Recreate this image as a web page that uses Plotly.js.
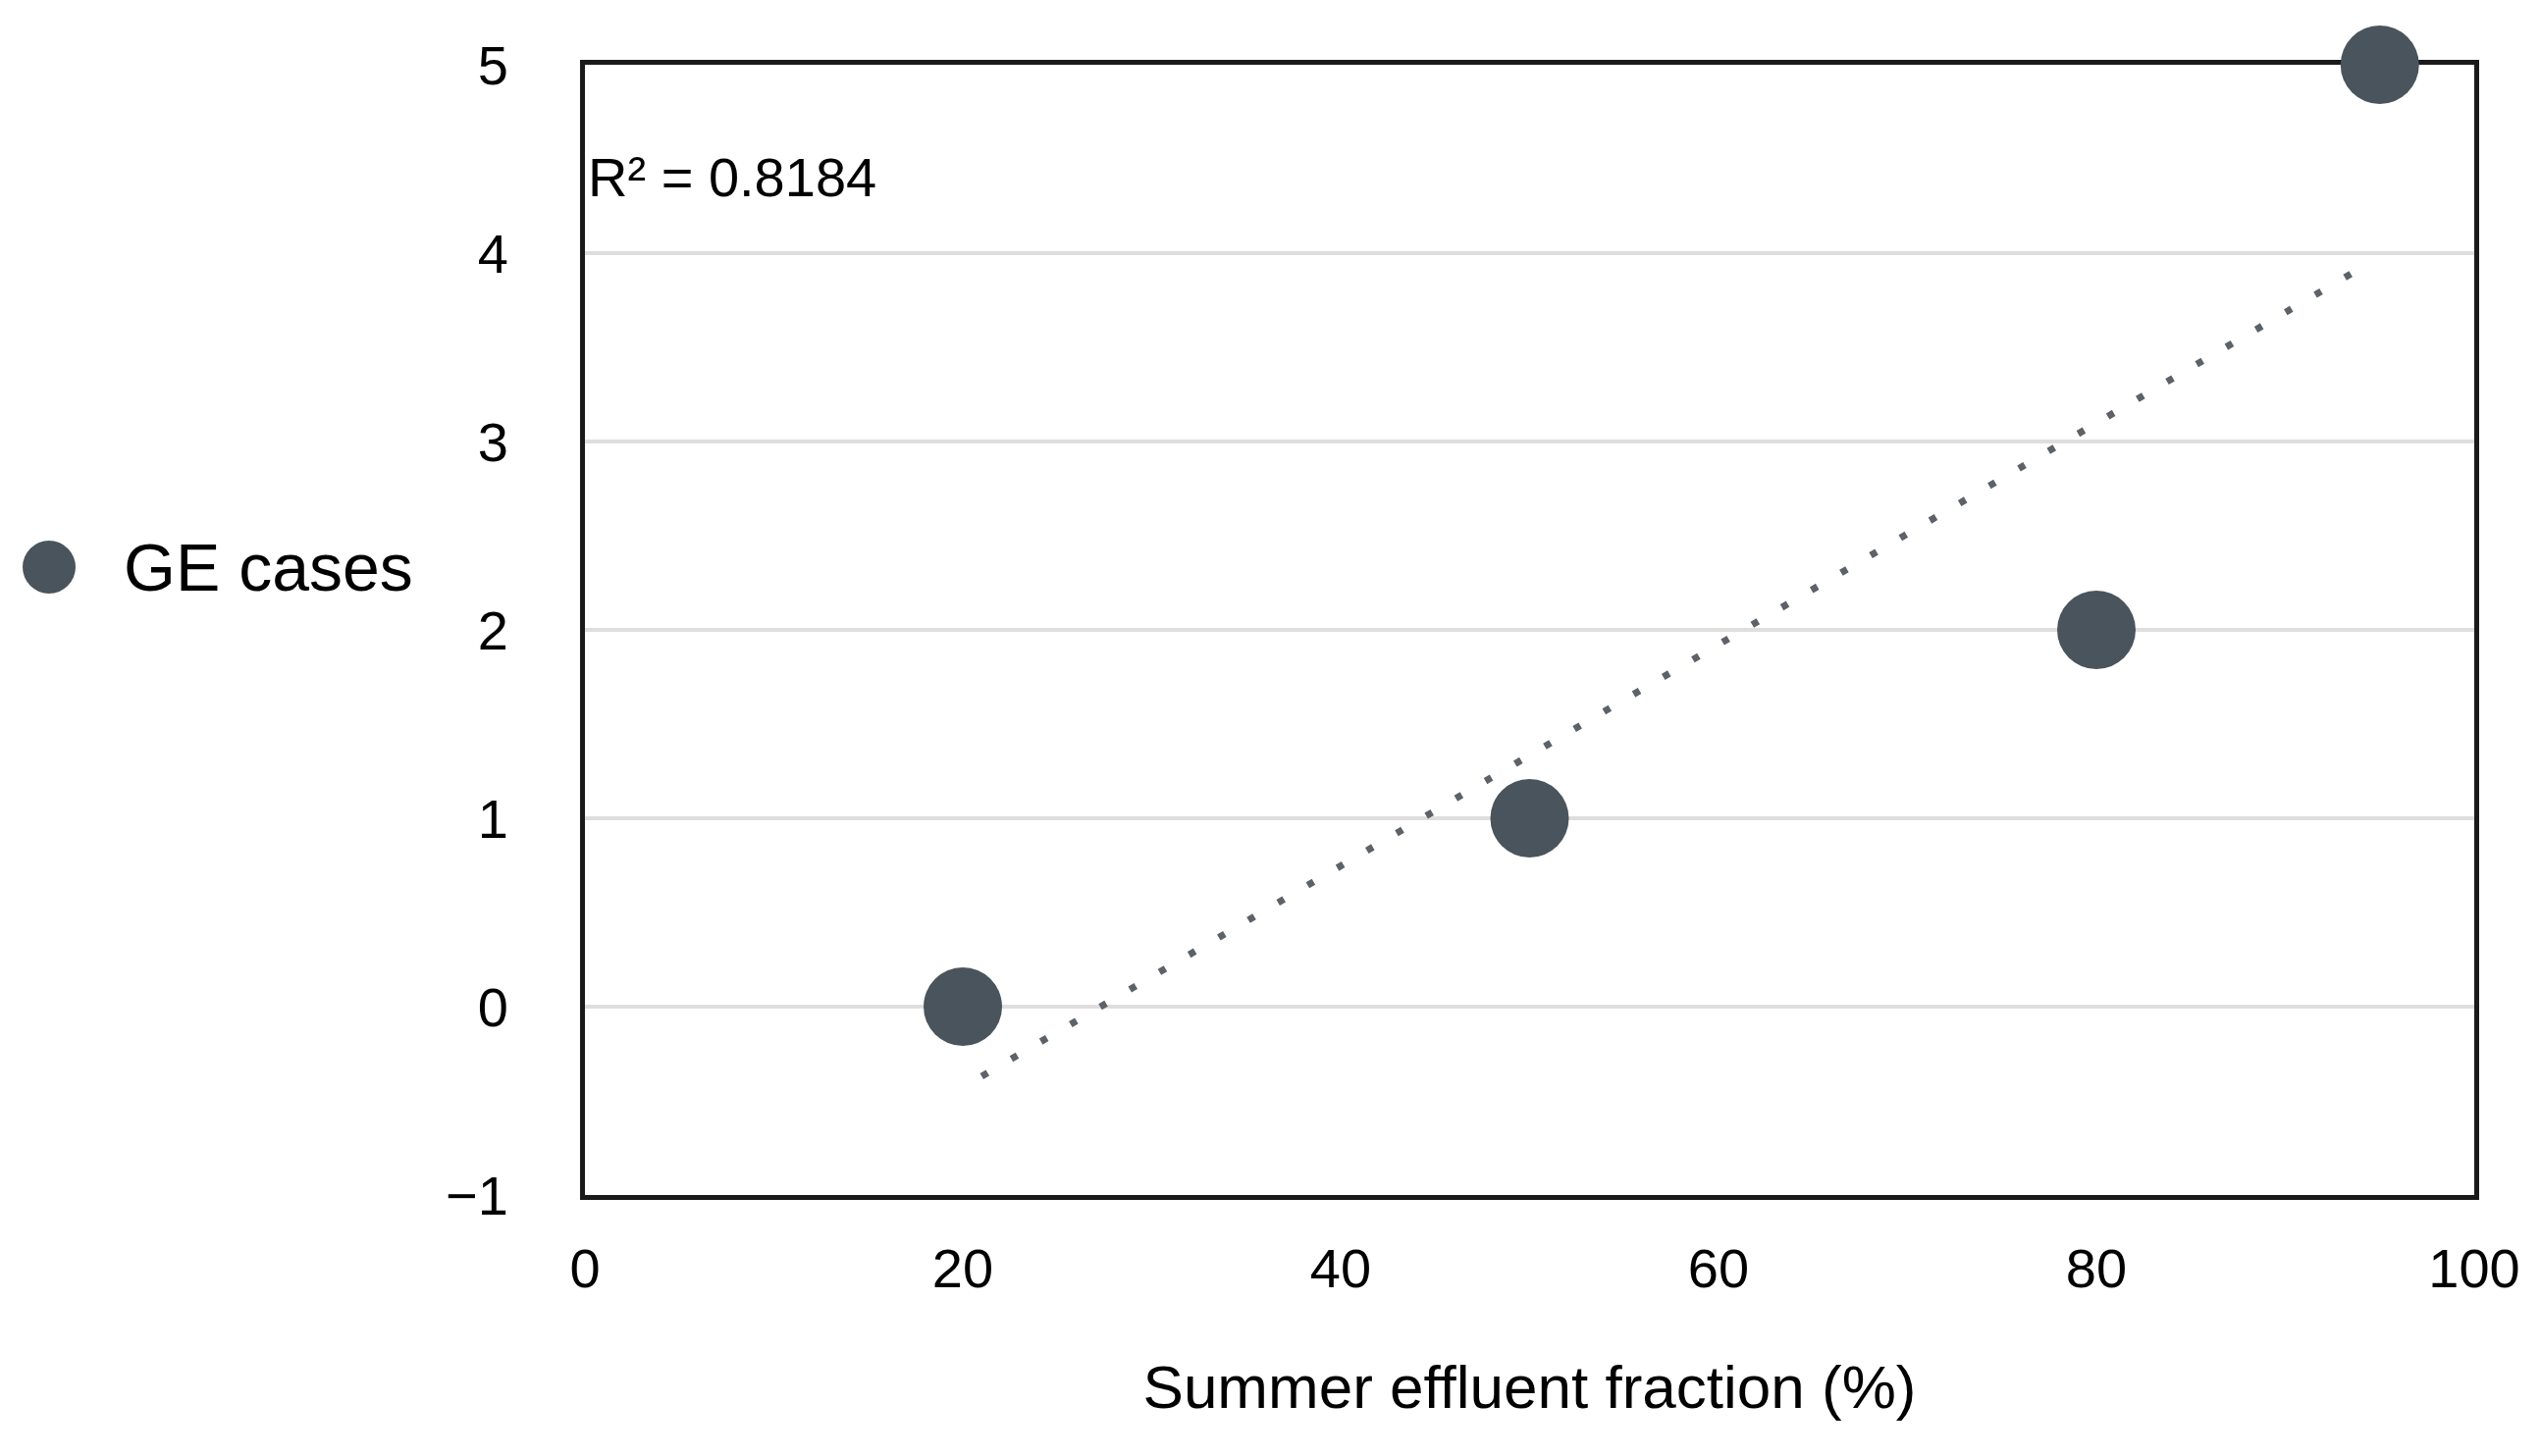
<!DOCTYPE html>
<html>
<head>
<meta charset="utf-8">
<script src="https://cdn.plot.ly/plotly-3.0.1.min.js"></script>
<style>html,body{margin:0;padding:0;background:#fff;}#chart{width:2588px;height:1484px;}</style>
</head>
<body>
<div id="chart"></div>
<script>
// Data
const effluentFraction = [20, 50, 80, 95];   // Summer effluent fraction (%)
const geCases = [0, 1, 2, 5];                 // GE cases
// Linear trend line end points
const trendX = [21, 94.5];
const trendY = [-0.37, 3.95];
const rSquaredText = 'R² = 0.8184';
const seriesName = 'GE cases';
const xTitle = 'Summer effluent fraction (%)';
const xTicks = [0, 20, 40, 60, 80, 100];
const yTicks = [-1, 0, 1, 2, 3, 4, 5];

const FONT = 'Liberation Sans, Arial, Helvetica, sans-serif';
const MARK = '#4a545c';

const W = 2588, H = 1484;
const L = 596, R = 67, T = 66, B = 266;
const plotW = W - L - R, plotH = H - T - B;
const px2paperX = p => (p - L) / plotW;
const px2paperY = p => (H - B - p) / plotH;

const traces = [
  {
    x: trendX, y: trendY, type: 'scatter', mode: 'lines',
    line: {color: '#5c6268', width: 7, dash: '7px,28px'},
    showlegend: false, hoverinfo: 'skip'
  },
  {
    x: effluentFraction, y: geCases, type: 'scatter', mode: 'markers',
    name: seriesName,
    marker: {color: MARK, size: 80, line: {width: 0}},
    cliponaxis: false, showlegend: false
  }
];

const layout = {
  width: W, height: H,
  margin: {l: L, r: R, t: T, b: B, pad: 0},
  paper_bgcolor: '#ffffff', plot_bgcolor: '#ffffff',
  font: {family: FONT, color: '#000', size: 56},
  showlegend: false,
  xaxis: {
    range: [0, 100], tickvals: xTicks, ticktext: xTicks.map(String),
    showgrid: false, zeroline: false,
    showline: true, mirror: true, linecolor: '#1a1a1a', linewidth: 5,
    ticks: '', ticklabelstandoff: 22,
    tickfont: {family: FONT, size: 56, color: '#000'},
    layer: 'below traces',
    title: {text: xTitle, font: {family: FONT, size: 62, color: '#000'}, standoff: 70},
    automargin: false
  },
  yaxis: {
    range: [-1, 5], tickvals: yTicks, ticktext: yTicks.map(v => v < 0 ? '\u2212' + Math.abs(v) : String(v)),
    showgrid: true, gridcolor: '#dedede', gridwidth: 4,
    zeroline: false,
    showline: true, mirror: true, linecolor: '#1a1a1a', linewidth: 5,
    ticks: '', ticklabelstandoff: 62,
    tickfont: {family: FONT, size: 56, color: '#000'},
    layer: 'below traces',
    automargin: false
  },
  shapes: [
    {
      type: 'circle', xref: 'paper', yref: 'paper',
      xsizemode: 'pixel', ysizemode: 'pixel',
      xanchor: px2paperX(50), yanchor: px2paperY(578),
      x0: -27, x1: 27, y0: -27, y1: 27,
      fillcolor: MARK, line: {width: 0}
    }
  ],
  annotations: [
    {
      text: rSquaredText, xref: 'paper', yref: 'paper',
      x: px2paperX(597), y: px2paperY(180), xanchor: 'left', yanchor: 'middle',
      showarrow: false, font: {family: FONT, size: 56, color: '#000'}
    },
    {
      text: seriesName, xref: 'paper', yref: 'paper',
      x: px2paperX(124), y: px2paperY(578), xanchor: 'left', yanchor: 'middle',
      showarrow: false, font: {family: FONT, size: 68, color: '#000'}
    }
  ]
};

Plotly.newPlot('chart', traces, layout, {staticPlot: true, displayModeBar: false});
</script>
</body>
</html>
